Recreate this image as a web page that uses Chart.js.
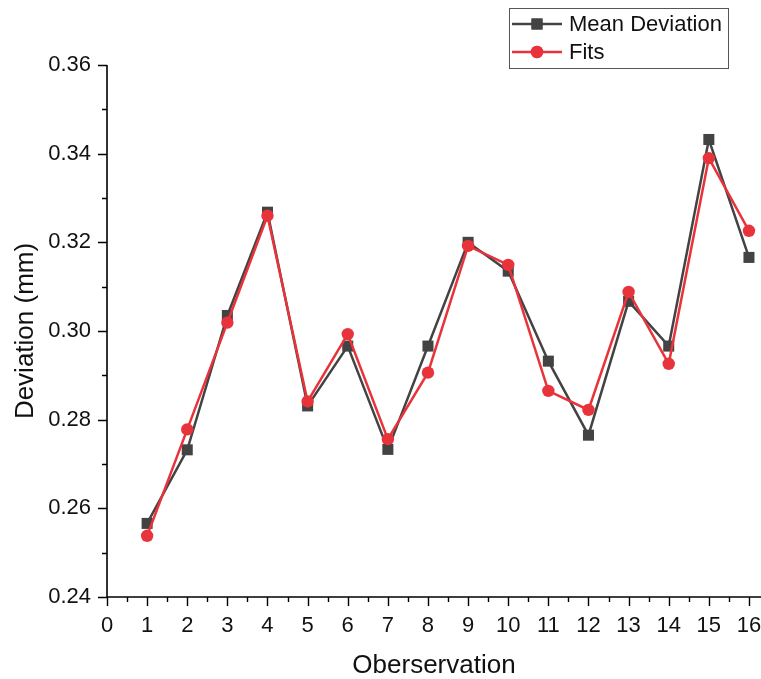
<!DOCTYPE html>
<html>
<head>
<meta charset="utf-8">
<script src="https://cdn.jsdelivr.net/npm/chart.js@4.4.1/dist/chart.umd.min.js"></script>
<style>
    html, body { margin: 0; padding: 0; background: #ffffff; }
    #chart { display: block; }
</style>
</head>
<body>
<canvas id="chart" width="761" height="679"></canvas>
<script>
// Data
const observations = [1, 2, 3, 4, 5, 6, 7, 8, 9, 10, 11, 12, 13, 14, 15, 16];
const meanDeviation = [0.2566, 0.2732, 0.3035, 0.3268, 0.2831, 0.2966, 0.2733, 0.2966,
                       0.3200, 0.3135, 0.2932, 0.2765, 0.3067, 0.2966, 0.3432, 0.3166];
const fits = [0.2538, 0.2778, 0.3019, 0.3260, 0.2841, 0.2993, 0.2756, 0.2906,
              0.3192, 0.3149, 0.2865, 0.2822, 0.3088, 0.2926, 0.3390, 0.3226];
const xTicks = [0, 1, 2, 3, 4, 5, 6, 7, 8, 9, 10, 11, 12, 13, 14, 15, 16];
const yTicks = [0.24, 0.26, 0.28, 0.30, 0.32, 0.34, 0.36];

const grey = "#434343";
const red = "#e8333a";
const fontFamily = "Arial, 'Liberation Sans', sans-serif";

function toPoints(values) {
    return observations.map((obs, i) => ({ x: obs, y: values[i] }));
}

// draws axis lines with major + minor ticks (Origin style, ticks outward)
const axesPlugin = {
    id: "axesPlugin",
    afterDraw(chart) {
        const ctx = chart.ctx;
        const xs = chart.scales.x;
        const ys = chart.scales.y;
        const left = chart.chartArea.left;
        const bottom = chart.chartArea.bottom;
        ctx.save();
        ctx.strokeStyle = "#000";
        ctx.lineWidth = 1.6;
        ctx.beginPath();
        ctx.moveTo(left, ys.getPixelForValue(0.36));
        ctx.lineTo(left, bottom);
        ctx.lineTo(chart.chartArea.right, bottom);
        ctx.stroke();

        ctx.lineWidth = 1.4;
        ctx.beginPath();
        for (let v = 0; v <= 16.01; v += 0.5) {
            const px = Math.round(xs.getPixelForValue(v)) + 0.5;
            const len = Number.isInteger(v) ? 9 : 5;
            ctx.moveTo(px, bottom);
            ctx.lineTo(px, bottom + len);
        }
        for (let k = 0; k <= 12; k++) {
            const v = 0.24 + k * 0.01;
            const py = Math.round(ys.getPixelForValue(v)) + 0.5;
            const len = k % 2 === 0 ? 9 : 5;
            ctx.moveTo(left, py);
            ctx.lineTo(left - len, py);
        }
        ctx.stroke();
        ctx.restore();
    }
};

// legend box in the top right corner
const legendPlugin = {
    id: "legendPlugin",
    afterDraw(chart) {
        const ctx = chart.ctx;
        ctx.save();
        ctx.strokeStyle = "#555";
        ctx.lineWidth = 1;
        ctx.strokeRect(509.5, 8.5, 219, 60);

        const rows = [
            { label: "Mean Deviation", color: grey, style: "rect", radius: 7.8, y: 24 },
            { label: "Fits", color: red, style: "circle", radius: 6.2, y: 52 }
        ];
        rows.forEach(row => {
            ctx.strokeStyle = row.color;
            ctx.lineWidth = 2.5;
            ctx.beginPath();
            ctx.moveTo(512, row.y);
            ctx.lineTo(562, row.y);
            ctx.stroke();
            ctx.fillStyle = row.color;
            Chart.helpers.drawPoint(ctx, {
                pointStyle: row.style,
                radius: row.radius,
                rotation: 0,
                borderWidth: 0
            }, 537, row.y);
            ctx.fill();
            ctx.fillStyle = "#111";
            ctx.font = "22px " + fontFamily;
            ctx.textBaseline = "middle";
            ctx.textAlign = "left";
            ctx.fillText(row.label, 569, row.y + 1);
        });
        ctx.restore();
    }
};

new Chart(document.getElementById("chart"), {
    type: "line",
    data: {
        datasets: [
            {
                label: "Mean Deviation",
                data: toPoints(meanDeviation),
                borderColor: grey,
                backgroundColor: grey,
                borderWidth: 2.5,
                pointStyle: "rect",
                pointRadius: 7.8,
                pointBorderWidth: 0,
                pointBackgroundColor: grey,
                tension: 0,
                order: 1
            },
            {
                label: "Fits",
                data: toPoints(fits),
                borderColor: red,
                backgroundColor: red,
                borderWidth: 2.5,
                pointStyle: "circle",
                pointRadius: 6.2,
                pointBorderWidth: 0,
                pointBackgroundColor: red,
                tension: 0,
                order: 0
            }
        ]
    },
    options: {
        responsive: false,
        animation: false,
        layout: {
            autoPadding: false,
            padding: { top: 65, right: 0, left: 0, bottom: 0 }
        },
        plugins: {
            legend: { display: false },
            tooltip: { enabled: false }
        },
        scales: {
            x: {
                type: "linear",
                min: 0,
                max: 16.3,
                afterFit: scale => {
                    scale.height = 82;
                    scale.paddingLeft = 0;
                    scale.paddingRight = 0;
                },
                afterBuildTicks: scale => { scale.ticks = xTicks.map(v => ({ value: v })); },
                grid: { display: false, drawTicks: false },
                border: { display: false },
                ticks: {
                    autoSkip: false,
                    maxRotation: 0,
                    padding: 16,
                    color: "#111",
                    font: { family: fontFamily, size: 22 }
                },
                title: {
                    display: true,
                    text: "Oberservation",
                    color: "#111",
                    padding: { top: -2, bottom: 0 },
                    font: { family: fontFamily, size: 26, lineHeight: 1 }
                }
            },
            y: {
                type: "linear",
                min: 0.24,
                max: 0.36,
                afterFit: scale => {
                    scale.width = 107;
                    scale.paddingTop = 0;
                    scale.paddingBottom = 0;
                },
                afterBuildTicks: scale => { scale.ticks = yTicks.map(v => ({ value: v })); },
                grid: { display: false, drawTicks: false },
                border: { display: false },
                ticks: {
                    padding: 16,
                    color: "#111",
                    font: { family: fontFamily, size: 22 },
                    callback: value => value.toFixed(2)
                },
                title: {
                    display: true,
                    text: "Deviation (mm)",
                    color: "#111",
                    padding: { top: 13, bottom: 0 },
                    font: { family: fontFamily, size: 26, lineHeight: 1 }
                }
            }
        }
    },
    plugins: [axesPlugin, legendPlugin]
});
</script>
</body>
</html>
